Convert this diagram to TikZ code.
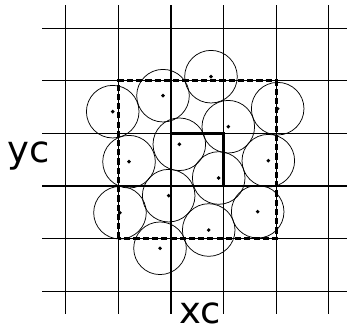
\documentclass[tikz,border=0pt]{standalone}
\usepackage{fontspec}
\setmainfont{DejaVu Sans}
\usetikzlibrary{positioning}
\tikzset{
  gridline/.style={line width=1pt,draw=black},
  cellbox/.style={line width=2.4pt,draw=black},
  blockbox/.style={line width=2.4pt,draw=black,dash pattern=on 5pt off 2.5pt},
  disc/.style={circle,draw=black,line width=0.6pt,minimum size=1.5cm,inner sep=0pt},
  centredot/.style={fill=black},
  axislabel/.style={inner sep=0pt,anchor=base,font=\fontsize{30}{34}\selectfont}
}

\begin{document}
\begin{tikzpicture}[x=1.5cm,y=1.5cm]
\useasboundingbox (-3.251,-2.738) rectangle (3.346,3.536);
% grid
\foreach \gx in {-2,...,3}
  \draw[gridline] (\gx,-2.433) -- (\gx,3.441);
\foreach \gy in {-2,...,3}
  \draw[gridline] (-2.452,\gy) -- (3.346,\gy);
% particles
\foreach \px/\py [count=\i] in {0.760/2.078,-0.152/1.717,-1.108/1.413,2.028/1.470,
    1.089/1.127,0.158/0.793,-0.798/0.462,1.850/0.481,0.907/0.152,
    -0.044/-0.184,-0.970/-0.508,1.648/-0.489,0.717/-0.837,-0.209/-1.184}{
  \node[disc] (d\i) at (\px,\py) {};
  \fill[centredot] (d\i.center) circle (1.6pt);
}
% neighbour block and central cell
\draw[blockbox] (-1,-1) rectangle (2,2);
\draw[cellbox] (0,0) rectangle (1,1);
% labels
\node[axislabel] (ylab) at (-2.709,0.445) {yc};
\node[axislabel] (xlab) at (0.561,-2.620) {xc};
\end{tikzpicture}
\end{document}
